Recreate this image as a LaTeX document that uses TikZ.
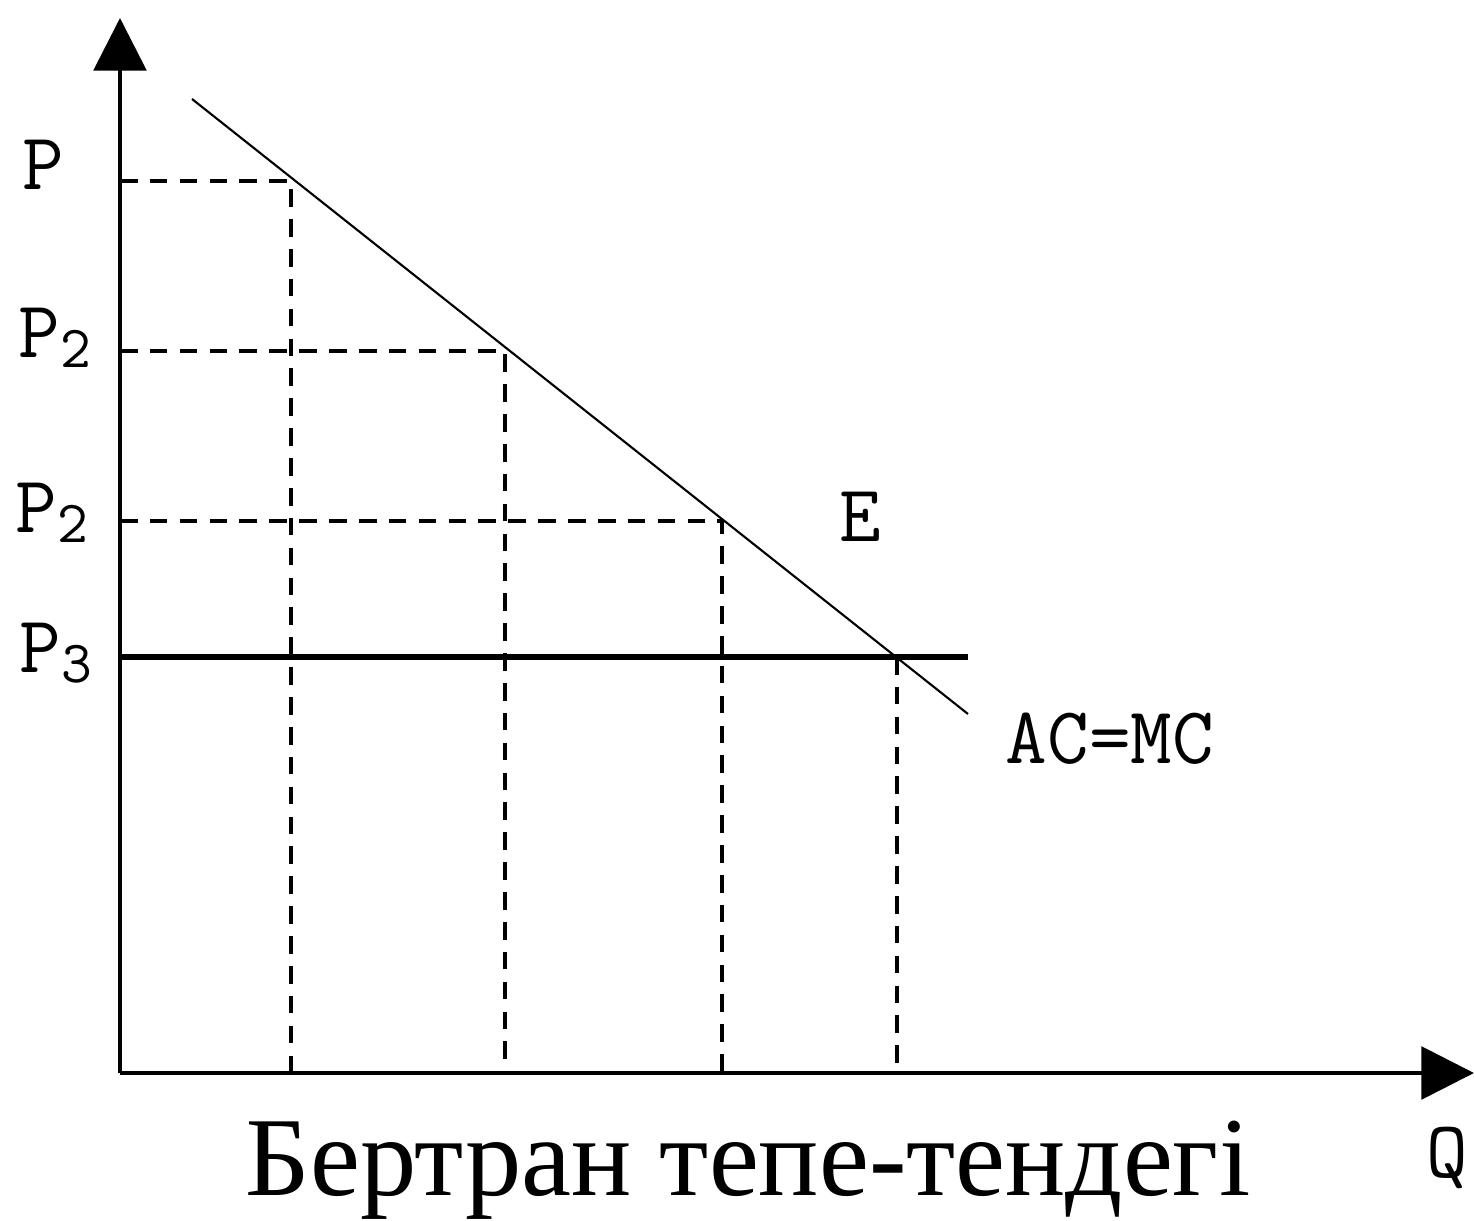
\documentclass[tikz,border=0pt]{standalone}
\usepackage{fontspec}
\setmainfont{Liberation Serif}
\usetikzlibrary{arrows.meta}

\newcommand{\lowsub}[1]{\raisebox{-0.12em}{\fontsize{17pt}{17pt}\selectfont #1}}

\tikzset{
	axis/.style={line width=1.1pt, -{Triangle[length=15pt, width=15pt]}},
	guide/.style={line width=1pt, dash pattern=on 5pt off 3.5pt},
	lab/.style={font=\ttfamily\fontsize{23pt}{23pt}\selectfont, inner sep=0pt}
}

\begin{document}
\begin{tikzpicture}
			\useasboundingbox (0,0) rectangle (14.74,12.20);
			
			\coordinate (O) at (1.20,1.47);
			\coordinate (ytop) at (1.20,12.02);
			\coordinate (xend) at (14.74,1.47);
			
			\coordinate (d1) at (1.92,11.21);
			\coordinate (d2) at (9.68,5.06);
			\coordinate (a) at (2.91,10.39);
			\coordinate (b) at (5.05,8.69);
			\coordinate (c) at (7.22,6.99);
			\coordinate (eq) at (8.97,5.63);
			\coordinate (p3end) at (9.68,5.63);
			
			\draw[axis] (O) to (ytop);
			\draw[axis] (O) to (xend);
			
			\draw[guide] (a -| O) -- (a) -- (a |- O);
			\draw[guide] (b -| O) -- (b) -- (b |- O);
			\draw[guide] (c -| O) -- (c) -- (c |- O);
			\draw[guide] (eq) -- (eq |- O);
			
			\draw[line width=1.7pt] (eq -| O) -- (p3end);
			\draw[line width=0.6pt] (d1) -- (d2);
			
			\node[lab] (p) at (0.43,10.55) {P};
			\node[lab] (p2a) at (0.55,8.82) {P\lowsub{2}};
			\node[lab] (p2b) at (0.52,7.07) {P\lowsub{2}};
			\node[lab] (p3) at (0.56,5.67) {P\lowsub{3}};
			\node[lab] (e) at (8.60,7.03) {E};
			\node[lab] (acmc) at (11.10,4.81) {AC=MC};
			\node[lab] (q) at (14.47,0.62) {Q};
			
			\node[font=\fontsize{32pt}{32pt}\selectfont, inner sep=0pt, anchor=base] (title) at (7.48,0.25) {Бертран тепе-тендегі};
		\end{tikzpicture}
\end{document}
